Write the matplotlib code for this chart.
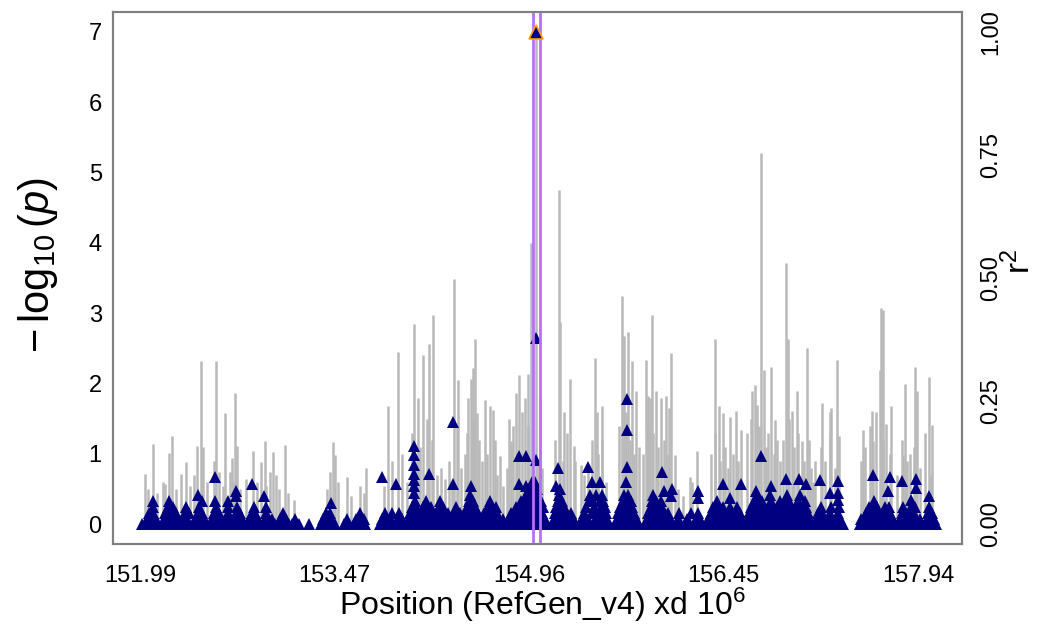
"""Regional association plot around the lead SNP on RefGen_v4 (151.99-157.94 Mb)."""
import matplotlib

matplotlib.use("Agg")
import matplotlib.pyplot as plt

plt.rcParams["font.family"] = ["Liberation Sans", "DejaVu Sans"]
plt.rcParams["mathtext.fontset"] = "custom"
plt.rcParams["mathtext.rm"] = "Liberation Sans"
plt.rcParams["mathtext.it"] = "Liberation Sans:italic"

# ---- data ----
x_ticks = [151.99, 153.47, 154.96, 156.45, 157.94]
y_ticks = [0, 1, 2, 3, 4, 5, 6, 7]
r2_ticks = [0.0, 0.25, 0.5, 0.75, 1.0]

# candidate window (purple lines) and lead SNP
window_pos = [154.994, 155.048]
lead_pos = 155.017
lead_logp = 7.0

# grey forest of vertical segments (position in Mb, height in -log10 p units)
bar_pos = [
    152.028, 152.089, 152.181, 152.212, 152.235, 152.304, 152.342, 152.426, 152.456, 152.571,
    152.640, 152.678, 152.693, 152.716, 152.731,
    152.05, 152.12, 152.16, 152.26, 152.37, 152.40, 152.47, 152.50, 152.55, 152.59, 152.62,
    152.70, 152.75, 152.80,
    152.854, 152.914, 152.940, 153.005, 153.028, 153.099, 153.167, 153.443, 153.465, 153.480,
    153.572, 153.672, 153.718, 153.886,
    152.88, 152.95, 152.98, 153.05, 153.12, 153.42, 153.50, 153.60, 153.70, 153.85, 153.91,
    153.962, 154.085, 154.115, 154.154, 154.200, 154.230, 154.291, 154.322, 154.390, 154.421,
    154.497, 154.520, 154.536, 154.551, 154.566, 154.628, 154.666, 154.689, 154.742, 154.765,
    154.826, 154.864, 154.887, 154.933, 154.956, 154.979, 155.048,
    153.99, 154.03, 154.07, 154.10, 154.13, 154.18, 154.22, 154.26, 154.35, 154.37, 154.41,
    154.44, 154.47, 154.49, 154.53, 154.58, 154.60, 154.64, 154.70, 154.72, 154.79, 154.81,
    154.84, 154.87, 154.91, 154.95, 155.03, 155.06,
    155.193, 155.201, 155.277, 155.308, 155.361, 155.468, 155.484, 155.522, 155.675, 155.690,
    155.721, 155.751, 155.782, 155.858, 155.874, 155.889, 155.904, 155.935, 155.973, 156.011,
    156.034, 156.049,
    155.16, 155.22, 155.23, 155.25, 155.31, 155.38, 155.41, 155.44, 155.49, 155.52, 155.55,
    155.65, 155.70, 155.73, 155.76, 155.80, 155.83, 155.87, 155.91, 155.95, 155.99, 156.02,
    156.080, 156.195, 156.248, 156.386, 156.416, 156.447, 156.501, 156.546, 156.584, 156.669,
    156.692, 156.737, 156.760, 156.814, 156.845, 156.929, 156.944, 156.974, 157.013, 157.051,
    157.089, 157.120,
    156.10, 156.14, 156.21, 156.35, 156.38, 156.42, 156.46, 156.48, 156.52, 156.56, 156.63,
    156.66, 156.70, 156.72, 156.77, 156.79, 156.83, 156.86, 156.88, 156.90, 156.95, 156.99,
    157.02, 157.06, 157.10, 157.13,
    157.204, 157.265, 157.272, 157.318, 157.334, 157.517, 157.586, 157.594, 157.655, 157.670,
    157.686, 157.731, 157.823, 157.838, 157.915, 157.930, 158.022, 158.045,
    157.15, 157.19, 157.22, 157.26, 157.30, 157.50, 157.53, 157.57, 157.61, 157.64, 157.67,
    157.72, 157.77, 157.81, 157.85, 157.87, 157.90, 157.95, 157.99, 158.03,
]
bar_logp = [
    0.71, 1.14, 0.58, 1.01, 1.26, 0.71, 0.89, 1.12, 2.32, 2.32,
    1.58, 0.75, 0.94, 1.86, 1.12,
    0.50, 0.45, 0.60, 0.50, 0.55, 0.70, 1.10, 0.60, 0.90, 0.75, 0.55,
    0.60, 0.50, 0.65,
    1.04, 0.89, 1.19, 1.03, 0.70, 1.13, 0.34, 0.75, 1.17, 0.98,
    0.68, 0.55, 0.80, 1.68,
    0.60, 0.55, 0.75, 0.50, 0.45, 0.50, 0.60, 0.40, 0.45, 0.55, 0.90,
    2.45, 2.85, 1.79, 2.40, 2.56, 2.98, 0.80, 0.65, 3.48, 2.05,
    1.79, 2.07, 2.22, 2.64, 1.58, 1.76, 1.68, 1.62, 0.97, 0.54,
    1.19, 1.86, 2.12, 1.79, 2.14, 4.00, 1.79,
    1.00, 0.60, 1.30, 0.90, 1.10, 1.50, 1.20, 0.70, 0.90, 0.60, 1.40,
    0.80, 1.00, 1.30, 1.50, 1.20, 0.90, 1.00, 1.20, 0.70, 0.80, 1.50,
    1.40, 1.00, 1.60, 1.40, 0.90, 0.80,
    4.75, 2.88, 2.07, 1.12, 0.84, 2.36, 1.60, 1.68, 3.25, 2.67,
    2.74, 2.32, 1.90, 2.33, 1.82, 1.79, 2.97, 1.90, 1.79, 1.83,
    1.65, 2.43,
    1.20, 0.90, 1.60, 1.30, 0.90, 0.70, 0.80, 1.20, 1.00, 1.20, 0.60,
    1.40, 1.60, 1.20, 1.00, 1.10, 1.00, 1.40, 1.30, 1.10, 1.20, 1.00,
    0.98, 0.68, 1.04, 2.64, 1.68, 1.58, 1.53, 1.61, 1.34, 1.89,
    1.98, 5.28, 2.19, 2.24, 1.48, 3.71, 2.64, 1.61, 1.89, 1.18,
    2.50, 0.80,
    0.50, 0.40, 0.60, 1.00, 1.30, 0.90, 1.10, 0.80, 1.00, 0.90, 1.30,
    1.50, 1.70, 1.40, 1.10, 1.30, 1.00, 1.20, 0.90, 1.20, 1.50, 1.10,
    1.30, 0.90, 1.20, 0.60,
    1.73, 1.60, 1.65, 2.33, 1.26, 1.34, 1.61, 1.18, 3.07, 3.04,
    1.43, 1.68, 0.98, 2.00, 2.24, 1.89, 2.09, 1.41,
    0.90, 1.10, 0.90, 1.30, 0.80, 0.90, 1.10, 1.40, 1.60, 2.20, 1.20,
    1.00, 0.70, 1.20, 0.90, 1.00, 1.10, 0.80, 1.30, 0.70,
]

# SNP triangles: the dense low mass, grouped by stacking level
tier_logp = [0.00, 0.08, 0.16, 0.25, 0.33, 0.42, 0.50, 0.60]
tier_pos = [
    [152.00, 152.03, 152.06, 152.09, 152.12, 152.16, 152.19, 152.22, 152.25, 152.28, 152.30,
     152.33, 152.36, 152.39, 152.42, 152.45, 152.48, 152.50, 152.53, 152.56, 152.59, 152.62,
     152.64, 152.67, 152.70, 152.73, 152.76, 152.78, 152.81, 152.84, 152.87, 152.90, 152.93,
     152.96, 152.99, 153.02, 153.04, 153.07, 153.10, 153.13, 153.15, 153.18, 153.20,
     153.28, 153.37, 153.40, 153.43, 153.46, 153.48, 153.55, 153.58, 153.62, 153.65, 153.68,
     153.71, 153.82, 153.85, 153.88, 153.91, 153.93,
     153.95, 153.98, 154.01, 154.03, 154.06, 154.09, 154.12, 154.15, 154.18, 154.21, 154.24,
     154.27, 154.30, 154.33, 154.36, 154.40, 154.43, 154.46, 154.49, 154.52, 154.55, 154.58,
     154.60, 154.63, 154.66, 154.69, 154.72, 154.75, 154.78, 154.80, 154.83, 154.86, 154.89,
     154.92, 154.95, 154.98, 155.01, 155.04, 155.07, 155.09,
     155.14, 155.17, 155.20, 155.23, 155.26, 155.29, 155.32, 155.34, 155.36, 155.39, 155.42,
     155.45, 155.48, 155.51, 155.54, 155.57, 155.62, 155.65, 155.68, 155.71, 155.74, 155.77,
     155.80, 155.85, 155.88, 155.91, 155.94, 155.97, 156.00, 156.03, 156.06,
     156.09, 156.12, 156.15, 156.19, 156.22, 156.25, 156.28, 156.32, 156.35, 156.38, 156.41,
     156.44, 156.47, 156.50, 156.53, 156.56, 156.59, 156.62, 156.65, 156.68, 156.71, 156.74,
     156.77, 156.80, 156.83, 156.86, 156.89, 156.92, 156.95, 156.98, 157.01, 157.04, 157.07,
     157.10, 157.13,
     157.15, 157.18, 157.21, 157.24, 157.27, 157.30, 157.33, 157.36, 157.49, 157.52, 157.55,
     157.58, 157.61, 157.64, 157.67, 157.70, 157.73, 157.76, 157.79, 157.82, 157.85, 157.88,
     157.91, 157.94, 157.99, 158.02, 158.05, 158.07],
    [152.04, 152.08, 152.11, 152.17, 152.21, 152.24, 152.27, 152.31, 152.35, 152.41, 152.44,
     152.47, 152.54, 152.57, 152.61, 152.65, 152.68, 152.71, 152.74, 152.77, 152.82, 152.86,
     152.89, 152.94, 152.97, 153.00, 153.06, 153.10, 153.17,
     153.39, 153.42, 153.45, 153.57, 153.64, 153.67, 153.70, 153.84, 153.87, 153.90,
     153.96, 153.99, 154.04, 154.08, 154.11, 154.14, 154.17, 154.20, 154.23, 154.26, 154.29,
     154.32, 154.35, 154.38, 154.42, 154.44, 154.47, 154.50, 154.53, 154.56, 154.61, 154.64,
     154.67, 154.70, 154.73, 154.76, 154.81, 154.84, 154.87, 154.90, 154.93, 154.96, 154.99,
     155.02, 155.05, 155.08,
     155.15, 155.18, 155.21, 155.24, 155.27, 155.30, 155.37, 155.41, 155.47, 155.50, 155.53,
     155.56, 155.63, 155.66, 155.69, 155.72, 155.75, 155.78, 155.86, 155.89, 155.92, 155.95,
     155.98, 156.01, 156.04,
     156.10, 156.17, 156.24, 156.27, 156.33, 156.37, 156.40, 156.43, 156.46, 156.49, 156.52,
     156.55, 156.58, 156.63, 156.66, 156.69, 156.72, 156.75, 156.78, 156.81, 156.84, 156.87,
     156.90, 156.93, 156.96, 156.99, 157.02, 157.05, 157.08, 157.11,
     157.16, 157.19, 157.22, 157.25, 157.28, 157.31, 157.34, 157.50, 157.53, 157.56, 157.59,
     157.62, 157.65, 157.68, 157.71, 157.74, 157.80, 157.83, 157.86, 157.89, 157.92, 157.95,
     158.00, 158.03, 158.06],
    [152.06, 152.09, 152.18, 152.22, 152.26, 152.33, 152.36, 152.43, 152.46, 152.55, 152.59,
     152.66, 152.72, 152.75, 152.84, 152.87, 152.95, 153.08,
     153.41, 153.44, 153.67, 153.86, 153.91,
     153.97, 154.05, 154.09, 154.13, 154.16, 154.19, 154.22, 154.25, 154.28, 154.31, 154.34,
     154.39, 154.43, 154.48, 154.51, 154.54, 154.57, 154.62, 154.66, 154.69, 154.72, 154.82,
     154.85, 154.88, 154.91, 154.94, 154.97, 155.00, 155.03, 155.06,
     155.16, 155.19, 155.22, 155.25, 155.28, 155.38, 155.44, 155.49, 155.52, 155.55, 155.64,
     155.67, 155.70, 155.73, 155.76, 155.87, 155.90, 155.93, 155.96, 155.99, 156.02,
     156.11, 156.20, 156.25, 156.35, 156.39, 156.42, 156.45, 156.48, 156.51, 156.54, 156.57,
     156.64, 156.67, 156.70, 156.73, 156.76, 156.79, 156.82, 156.85, 156.88, 156.91, 156.94,
     156.97, 157.00, 157.03, 157.06, 157.09,
     157.17, 157.20, 157.26, 157.32, 157.54, 157.57, 157.60, 157.63, 157.66, 157.69, 157.72,
     157.81, 157.84, 157.87, 157.90, 158.01, 158.04],
    [152.09, 152.20, 152.24, 152.34, 152.44, 152.57, 152.66, 152.73, 152.86, 152.95,
     154.07, 154.10, 154.15, 154.18, 154.21, 154.27, 154.30, 154.40, 154.49, 154.52, 154.55,
     154.65, 154.68, 154.71, 154.86, 154.89, 154.92, 154.95, 154.98, 155.01, 155.04, 155.07,
     155.17, 155.20, 155.23, 155.40, 155.46, 155.51, 155.54, 155.66, 155.69, 155.72, 155.75,
     155.89, 155.92, 155.95, 155.98,
     156.37, 156.41, 156.44, 156.50, 156.55, 156.66, 156.69, 156.72, 156.75, 156.79, 156.82,
     156.86, 156.90, 156.93, 156.96, 157.00, 157.04, 157.08,
     157.19, 157.27, 157.33, 157.56, 157.59, 157.62, 157.68, 157.71, 157.82, 157.88, 157.91,
     158.02],
    [152.09, 152.21, 152.46, 152.56, 152.66,
     154.09, 154.17, 154.28, 154.50, 154.53, 154.66, 154.90, 154.93, 154.96, 154.99, 155.02,
     155.05,
     155.18, 155.21, 155.42, 155.45, 155.50, 155.53, 155.68, 155.71, 155.74, 155.90, 155.93,
     155.97,
     156.40, 156.68, 156.71, 156.74, 156.81, 156.88, 156.92, 156.95, 157.02, 157.07,
     157.60],
    [152.43, 154.51, 154.94, 154.97, 155.00, 155.03, 155.19, 155.43, 155.47, 155.52, 155.69,
     155.72, 155.91, 156.70, 156.80, 156.93, 157.03],
    [154.96, 155.00, 155.02, 155.20],
    [154.98, 155.01, 155.44, 155.50, 155.70],
]

# individual SNPs standing above the mass
hit_pos = [
    152.563, 152.724, 152.724, 152.846, 152.938, 153.450, 153.840, 153.947,
    154.085, 154.085, 154.085, 154.085, 154.085, 154.085, 154.085, 154.200,
    154.383, 154.383, 154.520, 154.887, 154.941, 154.887, 154.941, 155.017, 155.017,
    155.186, 155.170, 155.415, 155.713, 155.713, 155.713,
    155.981, 155.990, 156.057, 156.050, 156.256, 156.256,
    156.447, 156.501, 156.584, 156.737, 156.699, 156.814, 156.929, 157.028, 157.081,
    157.189, 157.265, 157.326, 157.326, 157.326,
    157.594, 157.724, 157.708, 157.815, 157.877, 157.922, 157.922, 158.022,
]
hit_logp = [
    0.67, 0.40, 0.47, 0.57, 0.41, 0.30, 0.67, 0.57,
    0.45, 0.54, 0.63, 0.72, 0.84, 0.98, 1.11, 0.72,
    0.58, 1.46, 0.54, 0.97, 0.97, 0.57, 0.55, 0.91, 2.65,
    0.80, 0.55, 0.82, 0.81, 1.34, 1.78,
    0.75, 0.47, 0.50, 0.40, 0.48, 0.38,
    0.58, 0.37, 0.58, 0.97, 0.48, 0.54, 0.64, 0.64, 0.58,
    0.63, 0.44, 0.61, 0.44, 0.34,
    0.70, 0.68, 0.47, 0.61, 0.34, 0.65, 0.51, 0.40,
]

NAVY = "#000080"
GREY = "#b9b9b9"
PURPLE = "#b870f4"
FRAME = "#808080"
TRI = 9.0

fig = plt.figure(figsize=(10.45, 6.29), dpi=100)
ax = fig.add_axes([0.108, 0.135, 0.8125, 0.846])

ax.vlines(bar_pos, 0, bar_logp, color=GREY, lw=1.8, zorder=1)
ax.vlines([lead_pos], 0, [lead_logp], color=GREY, lw=1.8, zorder=1)

for level, positions in zip(tier_logp, tier_pos):
    ax.plot(positions, [level] * len(positions), ls="none", marker="^", ms=TRI,
            color=NAVY, mec=NAVY, mew=0, zorder=2)
ax.plot(hit_pos, hit_logp, ls="none", marker="^", ms=TRI, color=NAVY, mec=NAVY,
        mew=0, zorder=2)

for p in window_pos:
    ax.axvline(p, color=PURPLE, lw=2.0, zorder=3)

ax.plot([lead_pos], [lead_logp], ls="none", marker="^", ms=TRI + 1, color=NAVY,
        mec="#ffa500", mew=1.2, zorder=4)

ax.set_xlim(151.78, 158.27)
ax.set_ylim(-0.28, 7.28)
ax.set_xticks(x_ticks)
ax.set_xticklabels([f"{v:.2f}" for v in x_ticks])
ax.set_yticks(y_ticks)
ax.tick_params(axis="x", length=0, pad=15, labelsize=17)
ax.tick_params(axis="y", length=0, pad=8, labelsize=17)

ax2 = ax.twinx()
ax2.set_ylim(-0.04, 1.04)
ax2.set_yticks(r2_ticks)
ax2.set_yticklabels([f"{v:.2f}" for v in r2_ticks], rotation=90, va="center")
ax2.tick_params(axis="y", length=0, pad=13, labelsize=17)

for a in (ax, ax2):
    for sp in a.spines.values():
        sp.set_color(FRAME)
        sp.set_linewidth(1.5)

fig.text(0.036, 0.578, r"$-\,\mathrm{log}_{10}\,(\mathit{p})$", rotation=90,
         ha="center", va="center", fontsize=30)
fig.text(0.976, 0.585, r"r$^2$", rotation=90, ha="center", va="center", fontsize=24)
fig.text(0.519, 0.038, r"Position (RefGen_v4) xd 10$^6$", ha="center", va="center",
         fontsize=23)

fig.savefig("out.png", dpi=100, facecolor="white")
